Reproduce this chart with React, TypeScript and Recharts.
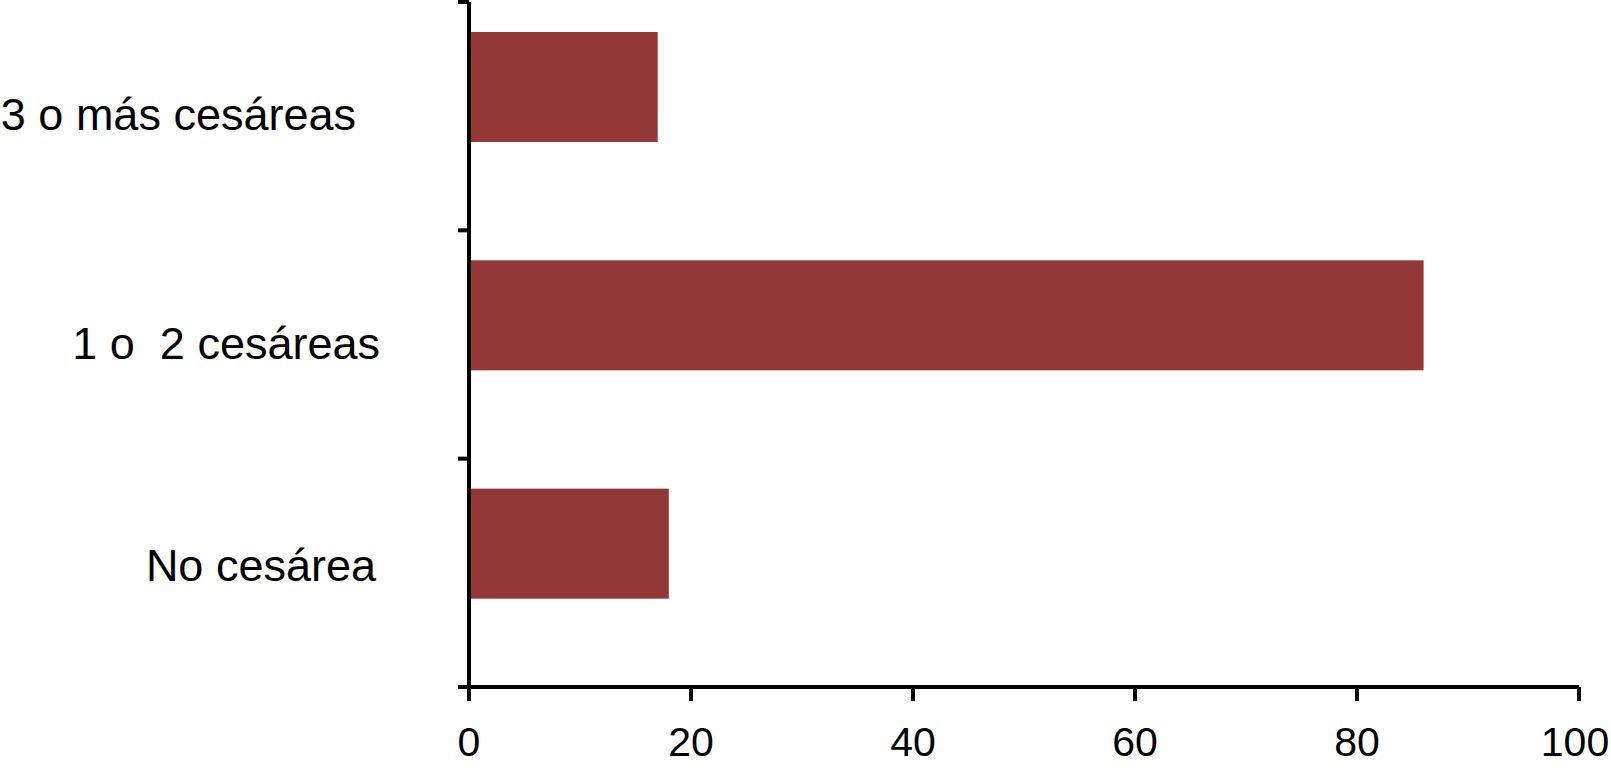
import React from 'react';
import { BarChart, Bar, XAxis, YAxis } from 'recharts';

const categories = ['3 o más cesáreas', '1 o  2 cesáreas', 'No cesárea'];
const values = [17, 86, 18];
const xTicks = [0, 20, 40, 60, 80, 100];

const data = categories.map((c, i) => ({ name: c, value: values[i] }));

const W = 1611;
const H = 778;
const PLOT_TOP = 2;
const PLOT_BOTTOM = 687;
const PLOT_LEFT = 469;
const PLOT_RIGHT = 1579;
const BAND = (PLOT_BOTTOM - PLOT_TOP) / categories.length;
const LABEL_RIGHT = [356, 380, 376];
const LABEL_DY = [-2, -1, -8];
const BAR_SHIFT = -29;
const FONT = '"Liberation Sans", Arial, Helvetica, sans-serif';
const BAR_COLOR = '#933836';
const STROKE = 4;

function CategoryTick(props: any) {
  const { y, payload, index } = props;
  const isLast = index === categories.length - 1;
  return (
    <g>
      <line x1={PLOT_LEFT - 11} x2={PLOT_LEFT} y1={y - BAND / 2} y2={y - BAND / 2} stroke="#000" strokeWidth={STROKE} />
      {isLast && (
        <line x1={PLOT_LEFT - 11} x2={PLOT_LEFT} y1={y + BAND / 2} y2={y + BAND / 2} stroke="#000" strokeWidth={STROKE} />
      )}
      <text
        x={LABEL_RIGHT[index]}
        y={y + LABEL_DY[index]}
        dy="0.355em"
        textAnchor="end"
        fontFamily={FONT}
        fontSize={45}
        fill="#000"
        style={{ whiteSpace: 'pre' }}
      >
        {payload.value}
      </text>
    </g>
  );
}

function ShiftedBar(props: any) {
  const { x, y, width, height, fill } = props;
  return <rect x={x} y={y + BAR_SHIFT} width={width} height={height} fill={fill} />;
}

function XTick(props: any) {
  const { x, y, payload, index } = props;
  const dx = index === xTicks.length - 1 ? -4 : 0;
  return (
    <text x={x + dx} y={y} dy="0.71em" textAnchor="middle" fontFamily={FONT} fontSize={41} fill="#000">
      {payload.value}
    </text>
  );
}

export default function App() {
  return (
    <div style={{ position: 'absolute', left: 0, top: 0, background: '#fff' }}>
      <BarChart
        width={W}
        height={H}
        data={data}
        layout="vertical"
        margin={{ top: PLOT_TOP, right: W - PLOT_RIGHT, bottom: 0, left: 0 }}
      >
        <XAxis
          type="number"
          domain={[0, 100]}
          ticks={xTicks}
          height={H - PLOT_BOTTOM}
          tickSize={14}
          tickMargin={26}
          axisLine={{ stroke: '#000', strokeWidth: STROKE }}
          tickLine={{ stroke: '#000', strokeWidth: STROKE }}
          tick={<XTick />}
          interval={0}
        />
        <YAxis
          type="category"
          dataKey="name"
          width={PLOT_LEFT}
          axisLine={{ stroke: '#000', strokeWidth: STROKE }}
          tickLine={false}
          tick={<CategoryTick />}
          interval={0}
        />
        <Bar dataKey="value" fill={BAR_COLOR} barSize={110} shape={<ShiftedBar />} isAnimationActive={false} />
      </BarChart>
    </div>
  );
}
